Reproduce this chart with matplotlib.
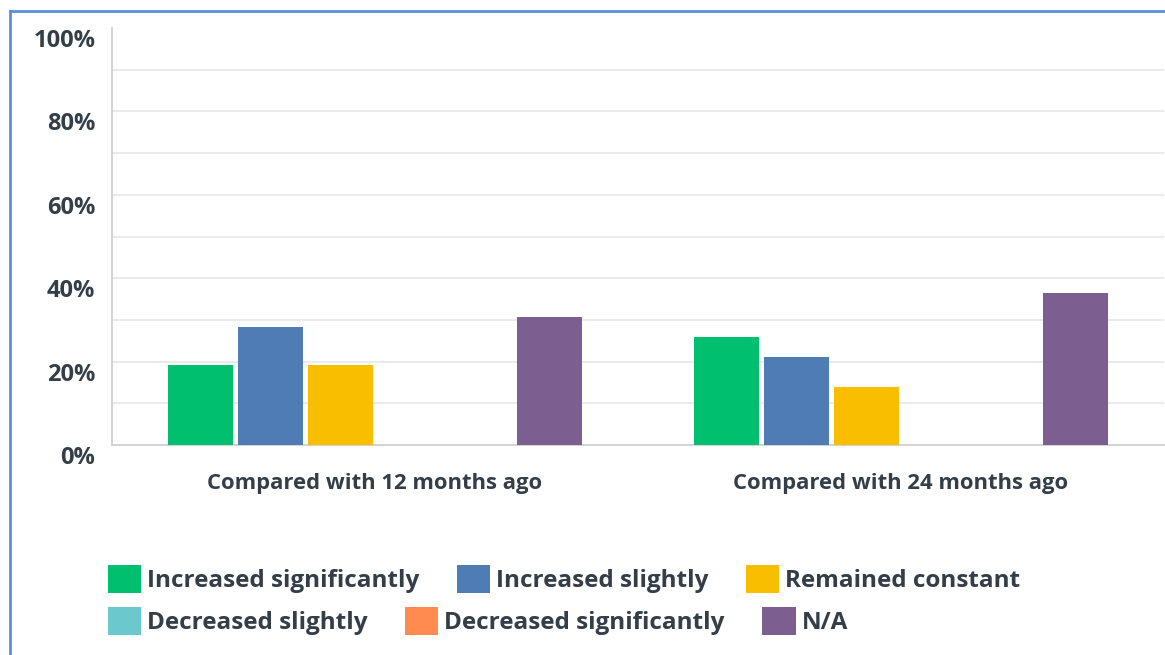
import matplotlib
matplotlib.use("Agg")
import matplotlib.pyplot as plt
import matplotlib.transforms as mtransforms
from matplotlib.patches import FancyBboxPatch
from matplotlib.legend_handler import HandlerPatch
from matplotlib.lines import Line2D
import numpy as np

# data (percent of respondents)
groups = ["Compared with 12 months ago", "Compared with 24 months ago"]
answers = ["Increased significantly", "Increased slightly", "Remained constant",
           "Decreased slightly", "Decreased significantly", "N/A"]
increased_significantly = [19.2, 25.9]
increased_slightly = [28.4, 21.1]
remained_constant = [19.2, 14.0]
decreased_slightly = [0.0, 0.0]
decreased_significantly = [0.0, 0.0]
not_applicable = [30.8, 36.5]
y_ticks = [0, 20, 40, 60, 80, 100]
y_tick_labels = ["0%", "20%", "40%", "60%", "80%", "100%"]

series = [increased_significantly, increased_slightly, remained_constant,
          decreased_slightly, decreased_significantly, not_applicable]
colors = ["#00bf6f", "#507cb6", "#f9be00", "#6bc8cd", "#ff8b4f", "#7d5e90"]
text_color = "#333e48"

plt.rcParams["font.family"] = ["Open Sans", "DejaVu Sans"]

fig = plt.figure(figsize=(11.65, 6.55), dpi=100)
ax = fig.add_axes([112 / 1165, 1 - 445 / 655, 1052 / 1165, 417 / 655])

x = np.arange(len(groups))
step = 69.5 / 525
bar_w = 65 / 525
for i, (vals, col) in enumerate(zip(series, colors)):
    ax.bar(x + (i - 2.5) * step, vals, width=bar_w, color=col, zorder=3,
           label=answers[i])

ax.set_xlim(-0.5, 1.5)
ax.set_ylim(0, 100)

# light gridlines every 10%, none on top
for g in range(10, 100, 10):
    ax.axhline(g, color="#ebebeb", lw=1.4, zorder=1)

ax.set_yticks(y_ticks)
ax.set_yticklabels(y_tick_labels, fontsize=17, fontweight="bold", color=text_color)
ax.set_xticks(x)
ax.set_xticklabels(groups, fontsize=15.8, fontweight="bold", color=text_color)
ax.tick_params(axis="both", length=0)
ax.tick_params(axis="y", pad=12)
ax.tick_params(axis="x", pad=20)

# the labels sit a bit below their gridline in the reference
shift = mtransforms.ScaledTranslation(0, -10 / 100, fig.dpi_scale_trans)
for lab in ax.get_yticklabels():
    lab.set_transform(lab.get_transform() + shift)

for s in ["top", "right"]:
    ax.spines[s].set_visible(False)
ax.spines["left"].set_color("#cfcfcf")
ax.spines["bottom"].set_color("#cfcfcf")
ax.spines["left"].set_linewidth(1.3)
ax.spines["bottom"].set_linewidth(1.3)


class RoundBox(HandlerPatch):
    def create_artists(self, legend, orig_handle, xdescent, ydescent,
                       width, height, fontsize, trans):
        p = FancyBboxPatch((-xdescent + 1.5, -ydescent + 1.5), width - 3, height - 3,
                           boxstyle="round,pad=1.5,rounding_size=3",
                           facecolor=orig_handle.get_facecolor(),
                           edgecolor="none", transform=trans)
        return [p]


handles, labels = ax.get_legend_handles_labels()
leg_kw = dict(frameon=False, ncol=3, fontsize=17.5, handlelength=1.36,
              handleheight=1.36, handletextpad=0.25, columnspacing=1.55,
              borderpad=0, borderaxespad=0, loc="center left",
              bbox_transform=fig.transFigure,
              handler_map={matplotlib.patches.Rectangle: RoundBox()})
leg1 = fig.legend(handles[:3], labels[:3], bbox_to_anchor=(108 / 1165, 1 - 579 / 655), **leg_kw)
leg2 = fig.legend(handles[3:], labels[3:], bbox_to_anchor=(108 / 1165, 1 - 621 / 655), **leg_kw)
for leg in (leg1, leg2):
    for t in leg.get_texts():
        t.set_color(text_color)
        t.set_fontweight("bold")

# blue frame round the panel (runs off the right and bottom edges)
fig.add_artist(Line2D([10 / 1165, 10 / 1165], [0, 1 - 11 / 655],
                      transform=fig.transFigure, color="#5b8fd9", lw=2))
fig.add_artist(Line2D([10 / 1165, 1], [1 - 11 / 655, 1 - 11 / 655],
                      transform=fig.transFigure, color="#5b8fd9", lw=2))

fig.savefig("out.png", dpi=100)
